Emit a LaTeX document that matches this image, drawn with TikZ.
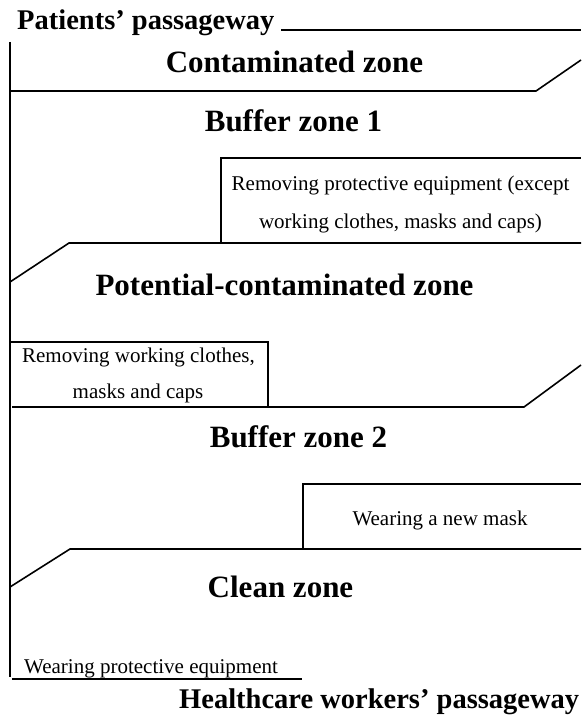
\documentclass[tikz,border=0pt]{standalone}
\usepackage{fontspec}
\setmainfont{Liberation Serif}
\tikzset{
  zone/.style={font=\bfseries\fontsize{31}{31}\selectfont, inner sep=0pt, anchor=base},
  way/.style={font=\bfseries\fontsize{28.5}{28.5}\selectfont, inner sep=0pt, anchor=base west},
  note/.style={font=\fontsize{21}{21}\selectfont, inner sep=0pt, anchor=base},
  wall/.style={line width=1.6pt}
}
\begin{document}
\begin{tikzpicture}[x=1pt,y=-1pt]
			\useasboundingbox (0,0) rectangle (581,717);
			
			\node[way] (pway) at (17,30) {Patients' passageway};
			\draw[wall] (281,30) -- (581,30);
			\draw[wall] (10,42) -- (10,677);
			
			\node[zone] (contam) at (294.5,73) {Contaminated zone};
			\draw[wall] (10,91) -- (536,91) -- (581,60);
			
			\node[zone] (buffone) at (293.5,131) {Buffer zone 1};
			\draw[wall] (221,243) -- (221,158) -- (581,158);
			\node[note] (rempe) at (400.5,190) {Removing protective equipment (except};
			\node[note] (rempetwo) at (400.5,228) {working clothes, masks and caps)};
			\draw[wall] (10,282) -- (69,243) -- (581,243);
			
			\node[zone] (potent) at (284.5,295) {Potential-contaminated zone};
			\draw[wall] (10,342) -- (268,342) -- (268,407);
			\node[note] (remwc) at (138.5,362) {Removing working clothes,};
			\node[note] (remwctwo) at (138,398) {masks and caps};
			\draw[wall] (12,407) -- (524,407) -- (581,365);
			
			\node[zone] (bufftwo) at (298.5,447) {Buffer zone 2};
			\draw[wall] (303,549) -- (303,484) -- (581,484);
			\node[note] (newmask) at (440,525) {Wearing a new mask};
			\draw[wall] (10,587) -- (70,549) -- (581,549);
			
			\node[zone] (clean) at (280.5,597) {Clean zone};
			\node[note, anchor=base west] (wearpe) at (24,673) {Wearing protective equipment};
			\draw[wall] (12,679) -- (302,679);
			\node[way] (hway) at (179,708) {Healthcare workers' passageway};
		\end{tikzpicture}
\end{document}
